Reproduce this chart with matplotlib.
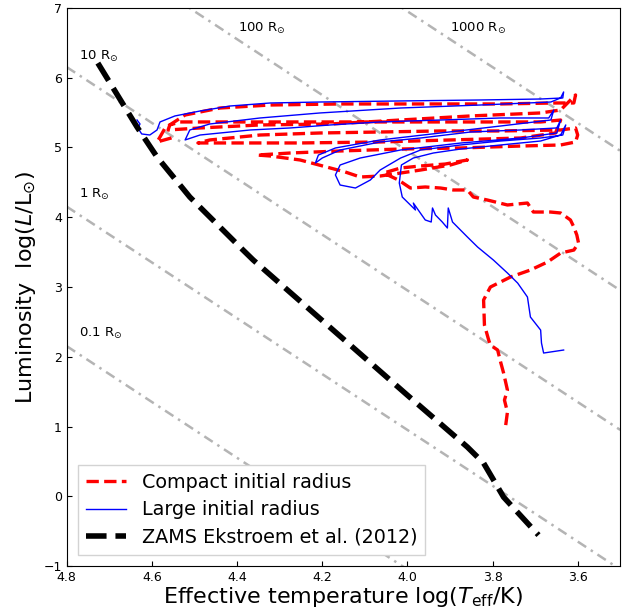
import numpy as np
import matplotlib
matplotlib.use("Agg")
import matplotlib.pyplot as plt

# ZAMS (Ekstroem et al. 2012)
zams_T = [4.727, 4.635, 4.588, 4.511, 4.386, 4.362, 4.0, 3.859, 3.821, 3.774, 3.692]
zams_L = [6.21, 5.294, 4.864, 4.290, 3.530, 3.387, 1.45, 0.706, 0.477, -0.011, -0.556]

# large initial radius track
large_T = [3.633, 3.680, 3.685, 3.687, 3.711, 3.718, 3.741, 3.765, 3.798, 3.835, 3.859, 3.894,
           3.904, 3.906, 3.918, 3.934, 3.941, 3.944, 3.958, 3.986, 3.981, 4.012, 4.019, 4.014,
           3.986, 3.939, 3.875, 3.781, 3.687, 3.640, 3.628, 3.635, 3.687, 3.781, 3.875, 3.969,
           4.016, 4.064, 4.087, 4.122, 4.158, 4.169, 4.158, 4.111, 4.016, 3.875, 3.734, 3.649,
           3.640, 3.649, 3.734, 3.852, 3.969, 4.064, 4.158, 4.200, 4.216, 4.209, 4.169, 4.064,
           3.922, 3.781, 3.663, 3.656, 3.668, 3.781, 3.922, 4.064, 4.181, 4.275, 4.369, 4.487,
           4.522, 4.511, 4.464, 4.346, 4.205, 4.016, 3.828, 3.663, 3.640, 3.633, 3.635, 3.687,
           3.828, 4.016, 4.205, 4.322, 4.416, 4.487, 4.546, 4.581, 4.588, 4.605, 4.624, 4.633,
           4.628, 4.635]
large_L = [2.097, 2.054, 2.197, 2.383, 2.570, 2.857, 3.057, 3.201, 3.387, 3.573, 3.717, 3.932,
           4.133, 3.846, 3.932, 4.032, 4.133, 3.932, 3.961, 4.204, 4.104, 4.290, 4.491, 4.749,
           4.849, 4.921, 4.978, 5.036, 5.093, 5.179, 5.323, 5.179, 5.136, 5.093, 5.036, 4.964,
           4.849, 4.677, 4.534, 4.419, 4.462, 4.606, 4.749, 4.849, 4.964, 5.064, 5.136, 5.208,
           5.394, 5.280, 5.251, 5.222, 5.136, 5.079, 4.964, 4.849, 4.778, 4.892, 4.993, 5.108,
           5.208, 5.308, 5.394, 5.538, 5.423, 5.423, 5.394, 5.366, 5.323, 5.280, 5.251, 5.179,
           5.108, 5.251, 5.337, 5.423, 5.495, 5.566, 5.609, 5.652, 5.710, 5.796, 5.710, 5.695,
           5.681, 5.667, 5.652, 5.638, 5.595, 5.523, 5.452, 5.366, 5.251, 5.179, 5.194, 5.280,
           5.337, 5.394]

# compact initial radius track
compact_T = [3.769, 3.765, 3.772, 3.765, 3.774, 3.781, 3.788, 3.805, 3.809, 3.819, 3.821, 3.805,
             3.758, 3.711, 3.671, 3.640, 3.609, 3.598, 3.602, 3.609, 3.617, 3.640, 3.664, 3.704,
             3.718, 3.765, 3.812, 3.845, 3.859, 3.892, 3.922, 3.958, 3.993, 4.021, 4.056, 4.016,
             3.969, 3.911, 3.859, 3.899, 3.969, 4.016, 4.064, 4.111, 4.146, 4.181, 4.252, 4.322,
             4.353, 4.275, 4.158, 4.016, 3.875, 3.734, 3.640, 3.605, 3.600, 3.605, 3.640, 3.781,
             3.922, 4.064, 4.205, 4.346, 4.464, 4.492, 4.416, 4.252, 4.064, 3.899, 3.734, 3.652,
             3.640, 3.687, 3.828, 3.969, 4.134, 4.299, 4.440, 4.534, 4.558, 4.562, 4.487, 4.346,
             4.181, 4.016, 3.852, 3.687, 3.640, 3.605, 3.609, 3.652, 3.781, 3.969, 4.158, 4.322,
             4.440, 4.522, 4.569, 4.581, 4.588, 4.546]
compact_L = [1.021, 1.208, 1.380, 1.523, 1.767, 1.925, 2.097, 2.168, 2.240, 2.455, 2.814, 3.000,
             3.143, 3.244, 3.358, 3.487, 3.530, 3.631, 3.745, 3.860, 3.961, 4.061, 4.075, 4.075,
             4.204, 4.176, 4.247, 4.290, 4.391, 4.391, 4.419, 4.434, 4.419, 4.534, 4.634, 4.706,
             4.735, 4.763, 4.821, 4.749, 4.677, 4.634, 4.591, 4.577, 4.649, 4.706, 4.821, 4.878,
             4.892, 4.921, 4.950, 4.978, 4.993, 5.021, 5.036, 5.079, 5.179, 5.280, 5.251, 5.237,
             5.237, 5.222, 5.208, 5.179, 5.108, 5.065, 5.065, 5.065, 5.079, 5.108, 5.136, 5.208,
             5.394, 5.366, 5.366, 5.366, 5.366, 5.366, 5.366, 5.366, 5.323, 5.251, 5.280, 5.323,
             5.337, 5.394, 5.452, 5.495, 5.538, 5.753, 5.638, 5.638, 5.624, 5.624, 5.624, 5.609,
             5.566, 5.466, 5.280, 5.151, 5.079, 5.151]

# constant radius lines (in R_sun)
radii = [0.1, 1, 10, 100, 1000]
radius_labels = ['0.1 R$_{\\odot}$', '1 R$_{\\odot}$', '10 R$_{\\odot}$', '100 R$_{\\odot}$', '1000 R$_{\\odot}$']
label_T = [4.772, 4.772, 4.772, 4.398, 3.899]
label_L = [2.34, 4.32, 6.30, 6.71, 6.71]
logTsun = 3.762

fig = plt.figure(figsize=(6.24, 6.12), dpi=100)
ax = fig.add_axes([0.107, 0.075, 0.887, 0.912])

Tline = np.array([4.8, 3.5])
for R in radii:
    ax.plot(Tline, 2 * np.log10(R) + 4 * (Tline - logTsun), ls='-.', dashes=(4, 2.2, 1, 2.2),
            color='#b4b4b4', lw=1.8, zorder=1)
for s, t, l in zip(radius_labels, label_T, label_L):
    ax.text(t, l, s, fontsize=9.5, ha='left', va='center')

ax.plot(compact_T, compact_L, 'r--', lw=2.4, label='Compact initial radius', zorder=3)
ax.plot(large_T, large_L, 'b-', lw=1, label='Large initial radius', zorder=4)
ax.plot(zams_T, zams_L, 'k--', lw=4, label='ZAMS Ekstroem et al. (2012)', zorder=5)

ax.set_xlim(4.8, 3.5)
ax.set_ylim(-1, 7)
ax.set_xticks([4.8, 4.6, 4.4, 4.2, 4.0, 3.8, 3.6])
ax.tick_params(direction='in', labelsize=9)
ax.set_xlabel('Effective temperature log($T_{\\rm eff}$/K)', fontsize=16, labelpad=1)
ax.set_ylabel('Luminosity  log($L$/L$_{\\odot}$)', fontsize=16, labelpad=4)
leg = ax.legend(loc='lower left', fontsize=13.8, handlelength=2.1, fancybox=False, framealpha=1,
                borderaxespad=0.6, labelspacing=0.45)
leg.get_frame().set_edgecolor('lightgray')

fig.savefig('out.png', dpi=100)
